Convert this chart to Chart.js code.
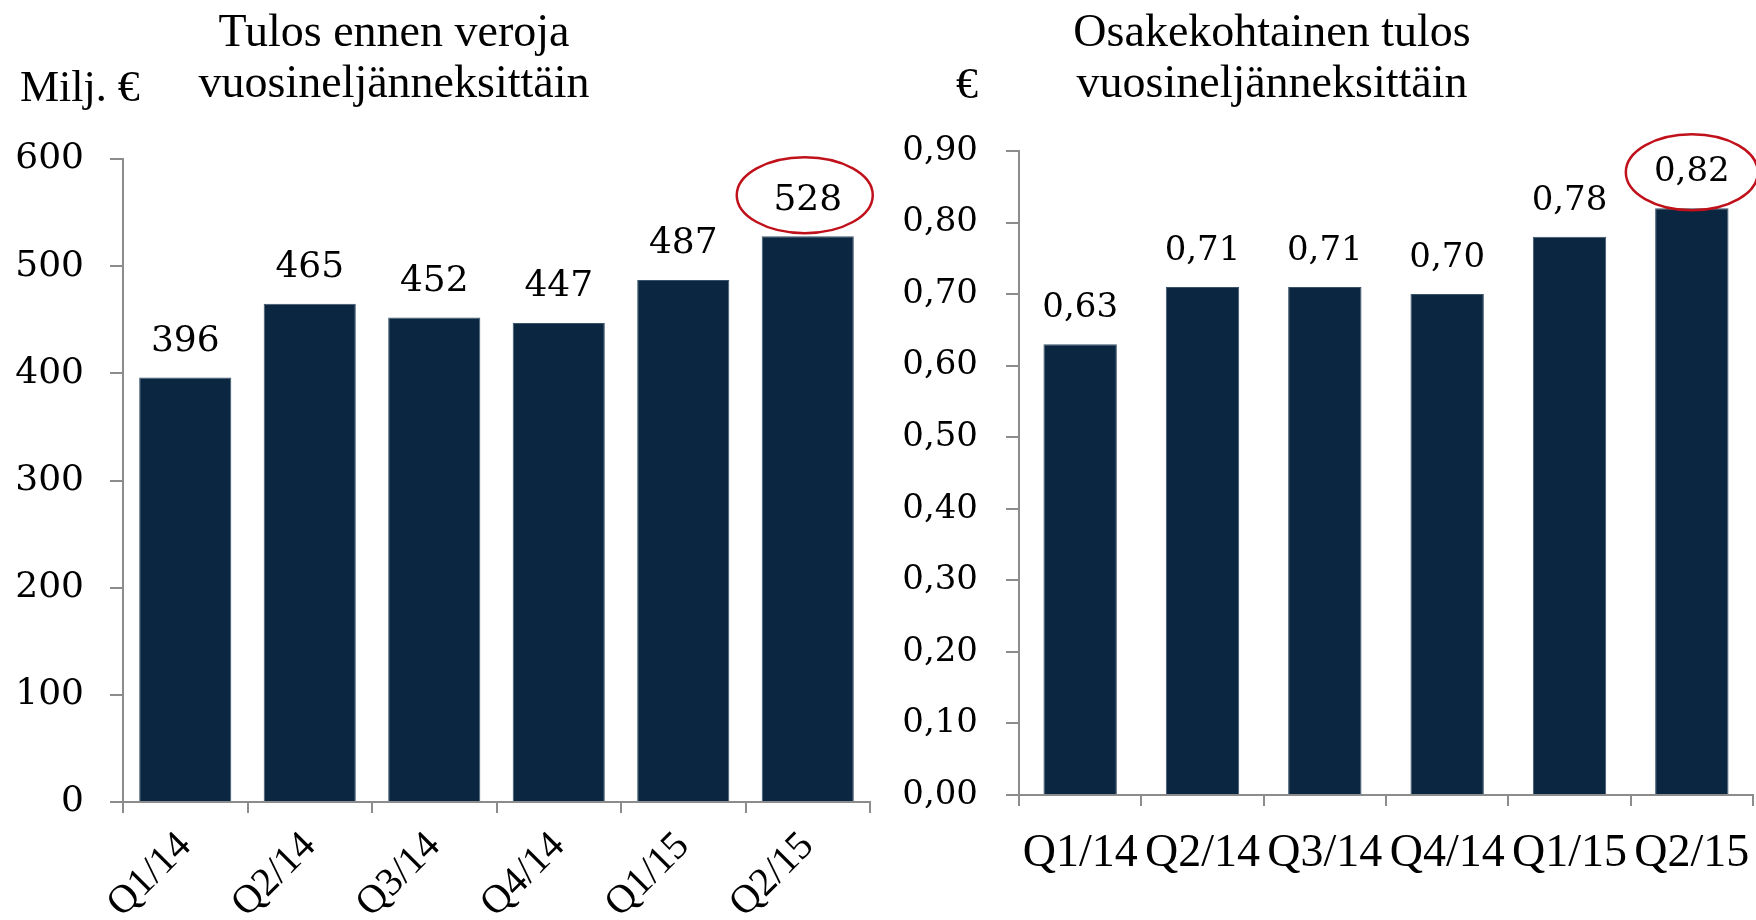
<!DOCTYPE html>
<html>
<head>
<meta charset="utf-8">
<script src="https://cdn.jsdelivr.net/npm/chart.js@4/dist/chart.umd.min.js"></script>
<style>
  html, body { margin:0; padding:0; background:#fff; width:1756px; height:920px; overflow:hidden; }
  .wrap { position:absolute; top:0; height:920px; }
  .txt { position:absolute; font-family:"Liberation Serif", serif; color:#000; white-space:nowrap; }
  .title { font-size:46px; line-height:51px; text-align:center; width:600px; }
</style>
</head>
<body>
<div class="wrap" style="left:0;width:880px;"><canvas id="c1" width="880" height="920"></canvas></div>
<div class="wrap" style="left:880px;width:876px;"><canvas id="c2" width="876" height="920"></canvas></div>

<div class="txt title" style="left:94px;top:5px;">Tulos ennen veroja<br>vuosineljänneksittäin</div>
<div class="txt" style="left:20px;top:62px;font-size:44px;line-height:50px;">Milj. €</div>
<div class="txt title" style="left:972px;top:5px;">Osakekohtainen tulos<br>vuosineljänneksittäin</div>
<div class="txt" style="left:956px;top:59px;font-size:44px;line-height:50px;">€</div>

<script>
// ---- data ----
const categories = ['Q1/14', 'Q2/14', 'Q3/14', 'Q4/14', 'Q1/15', 'Q2/15'];
const profitBeforeTax = [396, 465, 452, 447, 487, 528];
const earningsPerShare = [0.63, 0.71, 0.71, 0.70, 0.78, 0.82];
const profitAxis = [0, 600, 100];   // min, max, step
const epsAxis = [0, 0.9, 0.1];      // min, max, step
const highlightIndex = 5;

const BAR = '#0b2640';
const AXIS = '#8c8c8c';
const SERIF = '"DejaVu Serif", serif';

function fmtEps(v) { return Number(v).toFixed(2).replace('.', ','); }

function makeLabelPlugin(cfg) {
  return {
    id: 'barLabels_' + cfg.name,
    afterDraw(chart) {
      const ctx = chart.ctx;
      const meta = chart.getDatasetMeta(0);
      const data = chart.data.datasets[0].data;
      ctx.save();
      ctx.font = cfg.font;
      ctx.fillStyle = '#000';
      ctx.textAlign = 'center';
      ctx.textBaseline = 'middle';
      meta.data.forEach((bar, i) => {
        const y = bar.y - cfg.offset;
        ctx.fillText(cfg.format(data[i]), bar.x, y);
        if (i === highlightIndex) {
          ctx.beginPath();
          ctx.ellipse(bar.x + cfg.ex, y + cfg.ey, cfg.rx, cfg.ry, 0, 0, Math.PI * 2);
          ctx.strokeStyle = '#c0111b';
          ctx.lineWidth = 2.5;
          ctx.stroke();
        }
      });
      ctx.restore();
    }
  };
}

function axisGrid(len) {
  return { drawOnChartArea: false, drawTicks: true, tickLength: len, color: AXIS, lineWidth: 2 };
}

function buildChart(id, values, axis, opt) {
  return new Chart(document.getElementById(id), {
    type: 'bar',
    data: {
      labels: categories,
      datasets: [{
        data: values,
        backgroundColor: BAR,
        borderColor: '#3a536b',
        borderWidth: 1,
        barPercentage: opt.barPct,
        categoryPercentage: 1
      }]
    },
    options: {
      responsive: false,
      animation: false,
      layout: { padding: { top: opt.top, right: opt.right, left: 0, bottom: 0 } },
      plugins: { legend: { display: false }, tooltip: { enabled: false }, title: { display: false } },
      scales: {
        x: {
          grid: axisGrid(11),
          border: { color: AXIS, width: 2 },
          ticks: {
            color: '#000',
            font: { family: opt.xFamily, size: opt.xSize },
            maxRotation: opt.rot, minRotation: opt.rot,
            padding: opt.xPad,
            autoSkip: false
          },
          afterFit: (s) => { s.height = opt.xHeight; s.paddingLeft = 0; s.paddingRight = 0; }
        },
        y: {
          min: axis[0], max: axis[1],
          grid: axisGrid(13),
          border: { color: AXIS, width: 2 },
          ticks: {
            stepSize: axis[2],
            color: '#000',
            font: { family: SERIF, size: opt.ySize },
            padding: opt.yPad,
            callback: opt.yFmt
          },
          afterFit: (s) => { s.width = opt.yWidth; }
        }
      }
    },
    plugins: [makeLabelPlugin(opt.labels)]
  });
}

buildChart('c1', profitBeforeTax, profitAxis, {
  barPct: 0.74, top: 159, right: 10, xHeight: 118, yWidth: 123,
  xFamily: '"Liberation Serif", serif', xSize: 40, rot: 45, xPad: 10,
  ySize: 36, yPad: 26, yFmt: (v) => String(v),
  labels: { name: 'l', font: '36px ' + SERIF, offset: 36, format: (v) => String(v), ex: -3, ey: -5, rx: 68, ry: 38 }
});

buildChart('c2', earningsPerShare, epsAxis, {
  barPct: 0.6, top: 151, right: 3, xHeight: 125, yWidth: 139,
  xFamily: '"Liberation Serif", serif', xSize: 46, rot: 0, xPad: 20,
  ySize: 34, yPad: 28, yFmt: (v) => fmtEps(v),
  labels: { name: 'r', font: '34px ' + SERIF, offset: 36, format: fmtEps, ex: 0, ey: 0, rx: 66, ry: 38 }
});
</script>
</body>
</html>
